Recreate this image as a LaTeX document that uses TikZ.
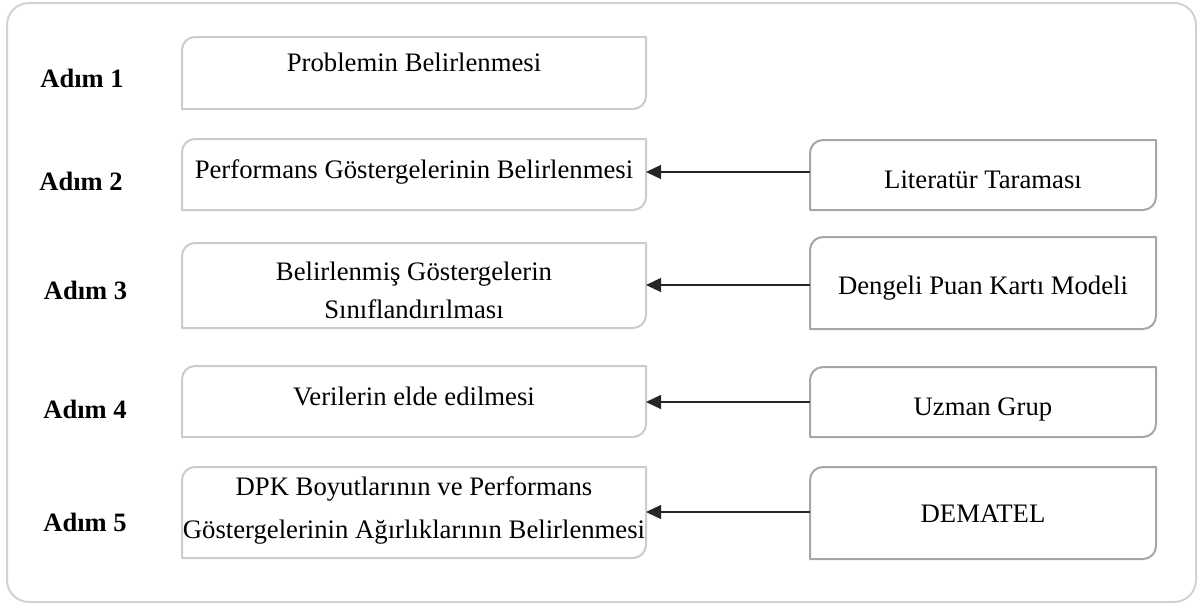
\documentclass[tikz,border=0pt]{standalone}
\usepackage{fontspec}
\setmainfont{Liberation Serif}
\usetikzlibrary{arrows.meta}

\definecolor{paleedge}{HTML}{CBCBCB}
\definecolor{darkedge}{HTML}{A6A6A6}
\definecolor{frameedge}{HTML}{D2D2D2}

\tikzset{
  slot/.style={draw=none, inner sep=0pt, outer sep=0pt},
  steptext/.style={font=\fontsize{26.7}{32}\selectfont, anchor=base, inner sep=0pt},
  steplabel/.style={font=\fontsize{26.5}{32}\selectfont\bfseries, anchor=base, inner sep=0pt},
  feed/.style={line width=1.3pt, draw=black!85, -{Triangle[length=15pt,width=14pt]}},
  edge/.style={line width=2pt, line join=round}
}

% outline with the top-left and bottom-right corners rounded (radius 13pt)
\newcommand\diagframe[2]{%
  \draw[edge, draw=#2] (#1.south west) -- ([yshift=-13pt]#1.north west)
    .. controls ([yshift=-5.8pt]#1.north west) and ([xshift=5.8pt]#1.north west)
    .. ([xshift=13pt]#1.north west)
    -- (#1.north east) -- ([yshift=13pt]#1.south east)
    .. controls ([yshift=5.8pt]#1.south east) and ([xshift=-5.8pt]#1.south east)
    .. ([xshift=-13pt]#1.south east)
    -- cycle;}

\begin{document}
\begin{tikzpicture}[x=1pt, y=-1pt]
\useasboundingbox (0,0) rectangle (1204,606);

% outer frame
\node (frame) [draw=frameedge, line width=2pt, rounded corners=22pt,
  minimum width=1189pt, minimum height=599pt, inner sep=0pt] at (601.5,302.5) {};

% step boxes (left column)
\node (L1) [slot, minimum width=464pt, minimum height=72pt] at (414,73) {};
\node (L2) [slot, minimum width=464pt, minimum height=71pt] at (414,174.5) {};
\node (L3) [slot, minimum width=464pt, minimum height=85pt] at (414,285.5) {};
\node (L4) [slot, minimum width=464pt, minimum height=71pt] at (414,401.5) {};
\node (L5) [slot, minimum width=464pt, minimum height=91pt] at (414,512.5) {};

% source boxes (right column)
\node (R2) [slot, minimum width=346pt, minimum height=70pt] at (983,175) {};
\node (R3) [slot, minimum width=346pt, minimum height=92pt] at (983,283) {};
\node (R4) [slot, minimum width=346pt, minimum height=70pt] at (983,402) {};
\node (R5) [slot, minimum width=346pt, minimum height=92pt] at (983,513) {};

\diagframe{L1}{paleedge}
\diagframe{L2}{paleedge}
\diagframe{L3}{paleedge}
\diagframe{L4}{paleedge}
\diagframe{L5}{paleedge}
\diagframe{R2}{darkedge}
\diagframe{R3}{darkedge}
\diagframe{R4}{darkedge}
\diagframe{R5}{darkedge}

% step labels
\node (A1) [steplabel] at (82,87) {Adım 1};
\node (A2) [steplabel] at (81,190) {Adım 2};
\node (A3) [steplabel] at (85.5,299) {Adım 3};
\node (A4) [steplabel] at (85,418) {Adım 4};
\node (A5) [steplabel] at (85,531) {Adım 5};

% box texts
\node (T1) [steptext] at (414,71) {Problemin Belirlenmesi};
\node (T2) [steptext] at (414,178) {Performans Göstergelerinin Belirlenmesi};
\node (T3a) [steptext] at (414,280) {Belirlenmiş Göstergelerin};
\node (T3b) [steptext] at (414,318) {Sınıflandırılması};
\node (T4) [steptext] at (414,405) {Verilerin elde edilmesi};
\node (T5a) [steptext] at (414,495) {DPK Boyutlarının ve Performans};
\node (T5b) [steptext] at (414,538) {Göstergelerinin Ağırlıklarının Belirlenmesi};

\node (S2) [steptext] at (983,188) {Literatür Taraması};
\node (S3) [steptext] at (983,294) {Dengeli Puan Kartı Modeli};
\node (S4) [steptext] at (983,415) {Uzman Grup};
\node (S5) [steptext] at (983,522) {DEMATEL};

% feeds from sources into steps
\coordinate (y2) at (0,172);
\coordinate (y3) at (0,285);
\coordinate (y4) at (0,402);
\coordinate (y5) at (0,512);
\draw[feed] (R2.west |- y2) -- (L2.east |- y2);
\draw[feed] (R3.west |- y3) -- (L3.east |- y3);
\draw[feed] (R4.west |- y4) -- (L4.east |- y4);
\draw[feed] (R5.west |- y5) -- (L5.east |- y5);
\end{tikzpicture}
\end{document}
